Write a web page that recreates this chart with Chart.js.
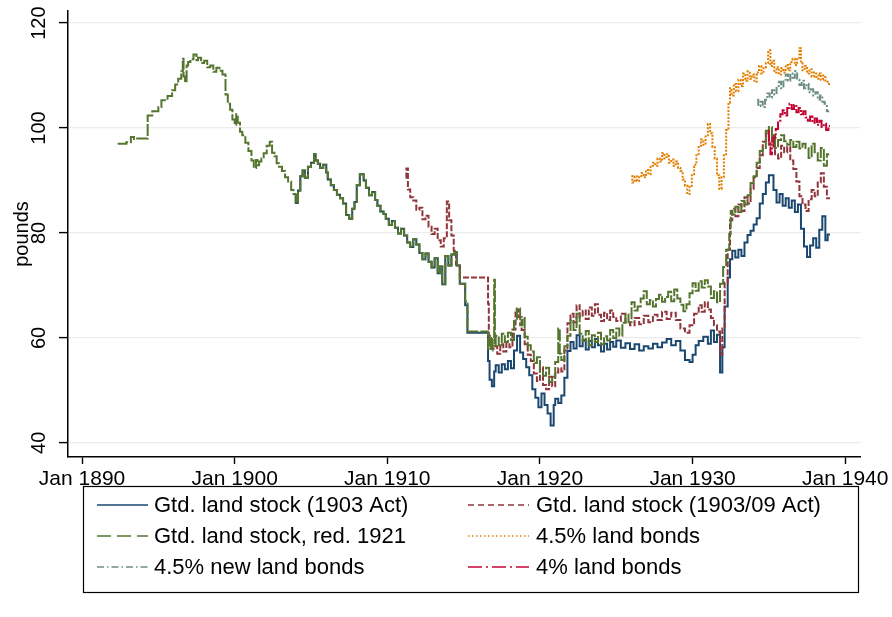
<!doctype html>
<html lang="en">
<head>
<meta charset="utf-8">
<title>Land stock prices</title>
<script src="https://cdn.jsdelivr.net/npm/chart.js@4.4.1/dist/chart.umd.min.js"></script>
<style>
	html, body { margin: 0; padding: 0; background: #fff; }
</style>
</head>
<body>
<canvas id="myChart" width="892" height="617"></canvas>
<script type="text/javascript">
// axis settings
var xTickYears = [1890, 1900, 1910, 1920, 1930, 1940];
var yTickValues = [40, 60, 80, 100, 120];
var yTitle = 'pounds';

var seriesNames = [
	'Gtd. land stock (1903 Act)',
	'Gtd. land stock (1903/09 Act)',
	'Gtd. land stock, red. 1921',
	'4.5% land bonds',
	'4.5% new land bonds',
	'4% land bonds'
];

// [year, price in pounds]
var stock1903 = [
	[1904.0, 87.4],[1904.15, 85.7],[1904.3, 88.1],[1904.45, 90.8],[1904.6, 91.9],[1904.8, 90.5],[1905.0, 92.6],
	[1905.2, 93.4],[1905.3, 95.0],[1905.45, 93.8],[1905.6, 93.2],[1905.8, 92.4],[1906.0, 93.0],[1906.1, 91.5],
	[1906.3, 90.2],[1906.5, 89.1],[1906.7, 88.2],[1906.9, 87.3],[1907.1, 86.6],[1907.3, 85.6],[1907.5, 83.4],
	[1907.7, 82.7],[1907.85, 84.6],[1908.0, 85.9],[1908.2, 89.1],[1908.45, 91.2],[1908.6, 90.0],[1908.8, 88.6],
	[1909.0, 87.2],[1909.2, 87.8],[1909.35, 86.3],[1909.55, 85.2],[1909.75, 84.1],[1909.9, 83.6],[1910.1, 82.7],
	[1910.3, 81.5],[1910.5, 82.3],[1910.7, 81.0],[1910.9, 79.9],[1911.1, 80.8],[1911.3, 79.5],[1911.5, 78.2],
	[1911.7, 77.3],[1911.9, 78.8],[1912.1, 77.8],[1912.3, 76.2],[1912.5, 75.0],[1912.7, 76.1],[1912.9, 74.5],
	[1913.1, 73.4],[1913.3, 75.2],[1913.45, 72.3],[1913.6, 73.6],[1913.8, 70.2],[1914.0, 75.6],[1914.2, 73.8],
	[1914.4, 75.9],[1914.55, 76.3],[1914.75, 73.8],[1915.1, 70.3],[1915.25, 66.2],[1916.6, 61.0],[1916.7, 55.6],
	[1916.85, 52.0],[1917.0, 50.8],[1917.1, 53.6],[1917.3, 54.8],[1917.5, 53.4],[1917.7, 55.0],[1917.9, 54.0],
	[1918.1, 55.6],[1918.3, 54.2],[1918.5, 57.6],[1918.7, 60.4],[1918.9, 57.2],[1919.1, 56.0],[1919.3, 54.4],
	[1919.5, 52.9],[1919.7, 50.2],[1919.9, 48.6],[1920.1, 46.8],[1920.3, 49.4],[1920.5, 47.2],[1920.7, 45.6],
	[1920.9, 43.3],[1921.0, 47.2],[1921.2, 48.4],[1921.4, 47.6],[1921.6, 49.0],[1921.8, 52.4],[1922.0, 57.5],
	[1922.2, 59.2],[1922.4, 58.0],[1922.6, 60.5],[1922.8, 58.4],[1923.0, 59.6],[1923.2, 57.8],[1923.4, 59.4],
	[1923.6, 58.2],[1923.8, 59.8],[1924.0, 58.6],[1924.2, 57.4],[1924.4, 58.9],[1924.6, 57.8],[1924.8, 59.2],
	[1925.0, 58.3],[1925.3, 59.5],[1925.6, 58.1],[1925.9, 59.0],[1926.2, 57.9],[1926.5, 58.8],[1926.8, 57.6],
	[1927.1, 58.4],[1927.4, 58.0],[1927.7, 58.9],[1928.0, 58.2],[1928.3, 59.1],[1928.6, 59.8],[1928.9, 58.6],
	[1929.2, 59.4],[1929.5, 57.6],[1929.8, 55.8],[1930.0, 55.4],[1930.2, 56.8],[1930.4, 58.6],[1930.7, 59.4],
	[1931.0, 60.2],[1931.2, 58.9],[1931.4, 61.4],[1931.6, 59.2],[1931.8, 60.6],[1931.95, 53.4],[1932.1, 58.2],
	[1932.3, 66.0],[1932.45, 71.5],[1932.6, 75.0],[1932.8, 76.6],[1933.0, 75.3],[1933.2, 76.8],[1933.4, 75.6],
	[1933.6, 78.2],[1933.8, 79.6],[1934.0, 80.4],[1934.2, 81.6],[1934.4, 82.8],[1934.6, 85.6],[1934.8, 87.4],
	[1935.0, 89.6],[1935.3, 91.0],[1935.5, 88.2],[1935.7, 85.8],[1935.9, 87.4],[1936.1, 85.2],[1936.3, 86.6],
	[1936.5, 84.8],[1936.7, 86.2],[1936.9, 84.0],[1937.1, 85.4],[1937.3, 80.8],[1937.5, 77.4],[1937.7, 75.4],
	[1937.9, 77.6],[1938.1, 79.0],[1938.3, 77.2],[1938.5, 80.6],[1938.7, 83.2],[1938.85, 78.6],[1939.0, 79.7]
];

var stock1909 = [
	[1911.25, 90.4],[1911.35, 92.3],[1911.5, 88.3],[1911.7, 86.8],[1911.9, 86.2],[1912.1, 84.4],[1912.3, 84.8],
	[1912.5, 82.6],[1912.7, 83.3],[1912.9, 81.2],[1913.1, 79.8],[1913.3, 80.8],[1913.5, 78.6],[1913.7, 77.4],
	[1913.9, 79.0],[1914.05, 86.0],[1914.2, 82.4],[1914.35, 79.5],[1914.5, 76.6],[1914.75, 74.0],[1915.1, 71.5],
	[1916.6, 71.5],[1916.65, 66.5],[1916.8, 60.0],[1917.0, 58.0],[1917.2, 58.4],[1917.4, 57.0],[1917.6, 58.8],
	[1917.8, 57.4],[1918.0, 59.0],[1918.2, 58.2],[1918.4, 61.6],[1918.6, 65.4],[1918.8, 64.0],[1919.0, 61.5],
	[1919.2, 58.8],[1919.4, 56.8],[1919.6, 55.6],[1919.8, 53.2],[1920.0, 51.8],[1920.2, 54.4],[1920.4, 51.0],
	[1920.6, 50.2],[1920.8, 52.6],[1921.0, 50.8],[1921.2, 53.4],[1921.4, 54.2],[1921.6, 53.6],[1921.8, 57.6],
	[1922.0, 62.8],[1922.2, 64.6],[1922.4, 63.0],[1922.6, 66.2],[1922.8, 64.0],[1923.0, 65.2],[1923.2, 63.6],
	[1923.4, 65.8],[1923.6, 64.2],[1923.8, 66.4],[1924.0, 64.4],[1924.2, 63.2],[1924.4, 64.8],[1924.6, 63.4],
	[1924.8, 65.2],[1925.0, 64.0],[1925.3, 63.2],[1925.6, 64.6],[1925.9, 63.0],[1926.2, 62.4],[1926.5, 63.8],
	[1926.8, 62.6],[1927.1, 64.2],[1927.4, 63.0],[1927.7, 64.4],[1928.0, 63.4],[1928.3, 65.0],[1928.6, 63.6],
	[1928.9, 64.8],[1929.2, 63.4],[1929.5, 61.8],[1929.8, 61.0],[1930.1, 62.4],[1930.4, 64.6],[1930.6, 66.2],
	[1930.8, 65.0],[1931.0, 66.8],[1931.2, 65.4],[1931.4, 63.8],[1931.6, 62.4],[1931.8, 61.2],[1931.95, 56.8],
	[1932.1, 61.8],[1932.3, 70.5],[1932.45, 76.8],[1932.6, 82.4],[1932.8, 84.6],[1933.0, 83.2],[1933.2, 85.4],
	[1933.4, 84.2],[1933.6, 86.8],[1933.8, 85.6],[1934.0, 88.4],[1934.2, 90.6],[1934.4, 92.4],[1934.6, 94.8],
	[1934.8, 97.4],[1935.0, 99.0],[1935.2, 96.8],[1935.4, 98.6],[1935.6, 95.0],[1935.8, 94.2],[1936.0, 96.6],
	[1936.2, 95.4],[1936.4, 96.4],[1936.6, 93.8],[1936.8, 92.2],[1937.0, 89.8],[1937.2, 87.0],[1937.4, 85.4],
	[1937.6, 84.2],[1937.8, 86.4],[1938.0, 88.2],[1938.2, 87.0],[1938.4, 89.6],[1938.6, 91.4],[1938.8, 88.8],
	[1939.0, 86.6]
];

var stockRed1921 = [
	[1892.4, 96.8],[1892.9, 97.0],[1893.2, 97.3],[1893.4, 98.3],[1893.5, 97.9],[1893.8, 98.0],[1894.3, 98.0],
	[1894.6, 102.4],[1895.0, 103.2],[1895.2, 104.0],[1895.6, 105.3],[1895.9, 106.1],[1896.1, 107.2],[1896.3, 108.3],
	[1896.5, 109.4],[1896.6, 110.8],[1896.65, 113.2],[1896.75, 109.8],[1896.85, 108.7],[1896.95, 111.9],[1897.1, 112.6],
	[1897.3, 113.1],[1897.5, 114.0],[1897.6, 112.9],[1897.8, 113.4],[1898.0, 112.4],[1898.2, 112.8],[1898.4, 111.6],
	[1898.6, 111.9],[1898.8, 110.7],[1899.0, 111.5],[1899.2, 110.9],[1899.4, 110.2],[1899.55, 106.4],[1899.7, 104.6],
	[1899.85, 103.5],[1900.0, 101.6],[1900.1, 100.6],[1900.2, 102.6],[1900.35, 101.0],[1900.5, 99.3],[1900.7, 98.6],
	[1900.9, 97.2],[1901.1, 95.6],[1901.25, 93.8],[1901.4, 92.4],[1901.5, 93.9],[1901.6, 92.9],[1901.75, 93.6],
	[1901.9, 94.2],[1902.1, 95.2],[1902.3, 96.6],[1902.45, 97.4],[1902.6, 95.3],[1902.75, 94.6],[1902.9, 93.3],
	[1903.1, 92.6],[1903.3, 91.8],[1903.5, 90.6],[1903.7, 89.8],[1903.85, 88.2],
	[1904.0, 87.4],[1904.15, 85.7],[1904.3, 88.1],[1904.45, 90.8],[1904.6, 91.9],[1904.8, 90.5],[1905.0, 92.6],
	[1905.2, 93.4],[1905.3, 95.0],[1905.45, 93.8],[1905.6, 93.2],[1905.8, 92.4],[1906.0, 93.0],[1906.1, 91.5],
	[1906.3, 90.2],[1906.5, 89.1],[1906.7, 88.2],[1906.9, 87.3],[1907.1, 86.6],[1907.3, 85.6],[1907.5, 83.4],
	[1907.7, 82.7],[1907.85, 84.6],[1908.0, 85.9],[1908.2, 89.1],[1908.45, 91.2],[1908.6, 90.0],[1908.8, 88.6],
	[1909.0, 87.2],[1909.2, 87.8],[1909.35, 86.3],[1909.55, 85.2],[1909.75, 84.1],[1909.9, 83.6],[1910.1, 82.7],
	[1910.3, 81.5],[1910.5, 82.3],[1910.7, 81.0],[1910.9, 79.9],[1911.1, 80.8],[1911.3, 79.5],[1911.5, 78.2],
	[1911.7, 77.3],[1911.9, 78.8],[1912.1, 77.8],[1912.3, 76.2],[1912.5, 75.0],[1912.7, 76.1],[1912.9, 74.5],
	[1913.1, 73.4],[1913.3, 75.2],[1913.45, 72.3],[1913.6, 73.6],[1913.8, 70.2],[1914.0, 75.6],[1914.2, 73.8],
	[1914.4, 75.9],[1914.55, 76.3],[1914.75, 73.8],[1915.1, 70.3],[1915.25, 67.0],[1916.6, 61.2],[1916.7, 58.0],
	[1916.8, 60.4],[1916.9, 57.6],[1917.0, 59.8],[1917.05, 71.1],[1917.1, 58.5],[1917.3, 60.4],[1917.5, 58.6],
	[1917.7, 60.8],[1917.9, 59.2],[1918.1, 61.0],[1918.3, 59.6],[1918.5, 63.2],[1918.7, 65.6],[1918.85, 62.4],
	[1919.0, 63.8],[1919.2, 60.2],[1919.4, 58.6],[1919.6, 57.4],[1919.8, 55.2],[1920.0, 56.3],[1920.2, 53.6],
	[1920.4, 52.8],[1920.6, 54.3],[1920.8, 51.6],[1921.0, 52.6],[1921.2, 55.4],[1921.3, 61.8],[1921.4, 57.0],
	[1921.6, 55.8],[1921.8, 58.4],[1922.0, 60.4],[1922.2, 63.3],[1922.4, 61.5],[1922.6, 64.6],[1922.8, 60.8],
	[1923.0, 59.4],[1923.2, 61.3],[1923.4, 58.6],[1923.6, 60.5],[1923.8, 59.2],[1924.0, 61.0],[1924.2, 58.8],
	[1924.4, 60.3],[1924.6, 59.5],[1924.8, 61.5],[1925.0, 60.0],[1925.2, 61.8],[1925.4, 60.4],[1925.6, 62.9],
	[1925.8, 64.5],[1926.0, 63.0],[1926.2, 66.8],[1926.4, 65.2],[1926.6, 66.0],[1926.8, 67.5],[1927.0, 68.9],
	[1927.2, 66.4],[1927.4, 67.2],[1927.6, 66.0],[1927.8, 67.4],[1928.0, 68.2],[1928.2, 66.9],[1928.4, 67.8],
	[1928.6, 68.8],[1928.8, 67.0],[1929.0, 69.2],[1929.2, 67.5],[1929.4, 66.3],[1929.6, 65.1],[1929.8, 66.4],
	[1930.0, 68.5],[1930.2, 70.4],[1930.4, 69.0],[1930.6, 70.8],[1930.8, 69.6],[1931.0, 71.0],[1931.2, 69.8],
	[1931.4, 67.6],[1931.6, 68.9],[1931.8, 66.8],[1932.0, 70.3],[1932.2, 73.5],[1932.4, 76.8],[1932.5, 79.8],
	[1932.6, 84.2],[1932.8, 83.5],[1933.0, 85.0],[1933.2, 84.0],[1933.4, 86.1],[1933.6, 85.4],[1933.8, 87.2],
	[1934.0, 89.5],[1934.2, 90.8],[1934.4, 93.4],[1934.6, 95.6],[1934.8, 96.2],[1935.0, 99.5],[1935.2, 100.2],
	[1935.4, 98.4],[1935.6, 96.2],[1935.8, 97.7],[1936.0, 98.6],[1936.2, 97.5],[1936.4, 96.8],[1936.6, 97.7],
	[1936.8, 96.4],[1937.0, 97.4],[1937.2, 96.1],[1937.4, 97.0],[1937.6, 96.2],[1937.8, 94.3],[1938.0, 97.0],
	[1938.2, 95.4],[1938.4, 93.8],[1938.6, 96.2],[1938.8, 92.8],[1938.95, 95.0]
];

var bonds45 = [
	[1926.05, 91.0],[1926.2, 89.6],[1926.35, 90.8],[1926.5, 89.9],[1926.65, 90.6],[1926.8, 91.4],[1926.95, 90.6],
	[1927.1, 92.0],[1927.25, 91.2],[1927.4, 92.6],[1927.55, 93.4],[1927.7, 92.8],[1927.85, 94.2],[1928.0, 93.6],
	[1928.15, 95.2],[1928.3, 94.2],[1928.45, 95.0],[1928.6, 93.4],[1928.75, 94.0],[1928.9, 92.8],[1929.05, 93.6],
	[1929.2, 92.4],[1929.35, 91.8],[1929.5, 90.2],[1929.65, 89.0],[1929.8, 87.4],[1929.95, 88.8],[1930.1, 91.2],
	[1930.25, 93.0],[1930.4, 94.8],[1930.55, 96.6],[1930.7, 97.8],[1930.85, 96.8],[1931.0, 98.4],[1931.15, 100.8],
	[1931.3, 99.0],[1931.45, 96.4],[1931.6, 94.2],[1931.75, 91.0],[1931.9, 88.4],[1932.05, 90.6],[1932.2, 94.8],
	[1932.35, 99.6],[1932.45, 104.8],[1932.55, 107.6],[1932.7, 106.2],[1932.85, 108.4],[1933.0, 107.0],[1933.15, 109.2],
	[1933.3, 108.0],[1933.45, 110.4],[1933.6, 109.0],[1933.75, 110.8],[1933.9, 109.4],[1934.05, 110.2],[1934.2, 108.8],
	[1934.35, 110.6],[1934.5, 111.8],[1934.65, 110.4],[1934.8, 111.6],[1934.95, 112.4],[1935.1, 114.8],[1935.2, 111.8],
	[1935.35, 112.8],[1935.5, 110.6],[1935.65, 111.6],[1935.8, 110.2],[1935.95, 111.4],[1936.1, 110.6],[1936.25, 112.0],
	[1936.4, 111.0],[1936.55, 112.6],[1936.7, 113.2],[1936.85, 112.0],[1937.0, 113.4],[1937.1, 115.2],[1937.2, 112.4],
	[1937.35, 111.0],[1937.5, 111.8],[1937.65, 110.4],[1937.8, 111.2],[1937.95, 109.8],[1938.1, 110.6],[1938.25, 109.4],
	[1938.4, 110.4],[1938.55, 109.2],[1938.7, 110.0],[1938.85, 108.8],[1939.0, 108.4]
];

var newBonds45 = [
	[1934.3, 105.6],[1934.45, 104.2],[1934.6, 105.0],[1934.75, 104.0],[1934.9, 105.4],[1935.05, 106.6],[1935.2, 105.8],
	[1935.35, 107.2],[1935.5, 106.4],[1935.65, 108.0],[1935.8, 108.8],[1935.95, 107.6],[1936.1, 109.2],[1936.25, 110.2],
	[1936.4, 109.0],[1936.55, 110.4],[1936.7, 109.6],[1936.85, 110.8],[1937.0, 109.2],[1937.15, 108.2],[1937.3, 109.0],
	[1937.45, 107.6],[1937.6, 108.4],[1937.75, 106.8],[1937.9, 107.4],[1938.05, 106.2],[1938.2, 106.8],[1938.35, 105.4],
	[1938.5, 106.2],[1938.65, 105.0],[1938.8, 104.6],[1938.95, 103.2]
];

var bonds4 = [
	[1935.0, 99.6],[1935.1, 97.2],[1935.2, 95.0],[1935.3, 96.4],[1935.45, 98.2],[1935.6, 99.8],[1935.75, 101.4],
	[1935.9, 102.6],[1936.05, 103.4],[1936.2, 102.4],[1936.35, 103.8],[1936.5, 104.6],[1936.65, 103.6],[1936.8, 104.4],
	[1936.95, 103.0],[1937.1, 103.8],[1937.25, 102.6],[1937.4, 103.2],[1937.55, 102.0],[1937.7, 101.4],[1937.85, 102.2],
	[1938.0, 101.0],[1938.15, 101.8],[1938.3, 100.6],[1938.45, 101.4],[1938.6, 100.2],[1938.75, 100.8],[1938.9, 99.6],
	[1939.0, 100.4]
];

var FONT = "'Liberation Sans', Arial, Helvetica, sans-serif";
var colors = ['#1a476f', '#90353b', '#55752f', '#e37e00', '#6e8e84', '#c10534'];
// dense weekly data makes the patterns look nearly solid in the plot
var lineDashes = [[], [6, 2], [12, 2], [2, 1.5], [7, 2, 2, 2], [12, 2, 2, 2]];
var legendDashes = [[], [6, 4], [14, 6], [1.5, 2.5], [7, 3, 1.5, 3], [14, 4, 2, 4]];
var allSeries = [stock1903, stock1909, stockRed1921, bonds45, newBonds45, bonds4];

var datasets = allSeries.map(function (s, i) {
	return {
		label: seriesNames[i],
		data: s.map(function (p) { return { x: p[0], y: p[1] }; }),
		borderColor: colors[i],
		backgroundColor: colors[i],
		borderDash: lineDashes[i],
		borderWidth: 2,
		pointRadius: 0,
		stepped: 'after',
		fill: false,
		order: 5 - i   // stata draws later series on top
	};
});

// rotated y labels, y title and the boxed two-column legend
var extras = {
	id: 'extras',
	afterDraw: function (chart) {
		var ctx = chart.ctx;
		var ys = chart.scales.y;
		var area = chart.chartArea;
		ctx.save();
		ctx.fillStyle = '#000';
		ctx.textAlign = 'center';
		ctx.textBaseline = 'middle';
		ctx.font = '20px ' + FONT;
		yTickValues.forEach(function (v) {
			ctx.save();
			ctx.translate(39, ys.getPixelForValue(v));
			ctx.rotate(-Math.PI / 2);
			ctx.fillText(String(v), 0, 0);
			ctx.restore();
		});
		ctx.save();
		ctx.translate(22, (area.top + area.bottom) / 2);
		ctx.rotate(-Math.PI / 2);
		ctx.fillText(yTitle, 0, 0);
		ctx.restore();

		// legend
		var box = { left: 83, top: 486, right: 858, bottom: 592 };
		ctx.strokeStyle = '#000';
		ctx.lineWidth = 1.2;
		ctx.strokeRect(box.left + 0.5, box.top + 0.5, box.right - box.left, box.bottom - box.top);
		var rowY = [505, 536, 567];
		var colX = [[97, 148, 154], [468, 529, 536]];
		ctx.font = '22px ' + FONT;
		ctx.textAlign = 'left';
		seriesNames.forEach(function (name, i) {
			var c = colX[i % 2];
			var y = rowY[Math.floor(i / 2)];
			ctx.save();
			ctx.strokeStyle = colors[i];
			ctx.lineWidth = 1.6;
			ctx.setLineDash(legendDashes[i]);
			ctx.beginPath();
			ctx.moveTo(c[0], y);
			ctx.lineTo(c[1], y);
			ctx.stroke();
			ctx.restore();
			ctx.fillStyle = '#000';
			ctx.fillText(name, c[2], y + 1);
		});
		ctx.restore();
	}
};

var ctx = document.getElementById('myChart').getContext('2d');
var chart = new Chart(ctx, {
	type: 'line',
	data: { datasets: datasets },
	options: {
		responsive: false,
		animation: false,
		layout: { padding: { top: 11, right: 30, bottom: 120, left: 0 } },
		plugins: { legend: { display: false }, tooltip: { enabled: false } },
		scales: {
			x: {
				type: 'linear',
				min: 1889.08,
				max: 1941,
				afterBuildTicks: function (s) { s.ticks = xTickYears.map(function (v) { return { value: v }; }); },
				afterFit: function (s) { s.height = 40; },
				grid: { drawOnChartArea: false, drawTicks: true, tickLength: 7, tickColor: '#000', tickWidth: 1.4 },
				border: { color: '#000', width: 1.5 },
				ticks: {
					color: '#000',
					font: { family: FONT, size: 21 },
					padding: 3,
					maxRotation: 0,
					autoSkip: false,
					callback: function (v) { return 'Jan ' + v; }
				}
			},
			y: {
				min: 37.3,
				max: 122.3,
				afterBuildTicks: function (s) { s.ticks = yTickValues.map(function (v) { return { value: v }; }); },
				afterFit: function (s) { s.width = 68; },
				grid: { color: '#ececec', lineWidth: 1.2, tickColor: '#000', tickLength: 9, tickWidth: 1.4 },
				border: { color: '#000', width: 1.5 },
				ticks: { display: false }
			}
		}
	},
	plugins: [extras]
});
</script>
</body>
</html>
